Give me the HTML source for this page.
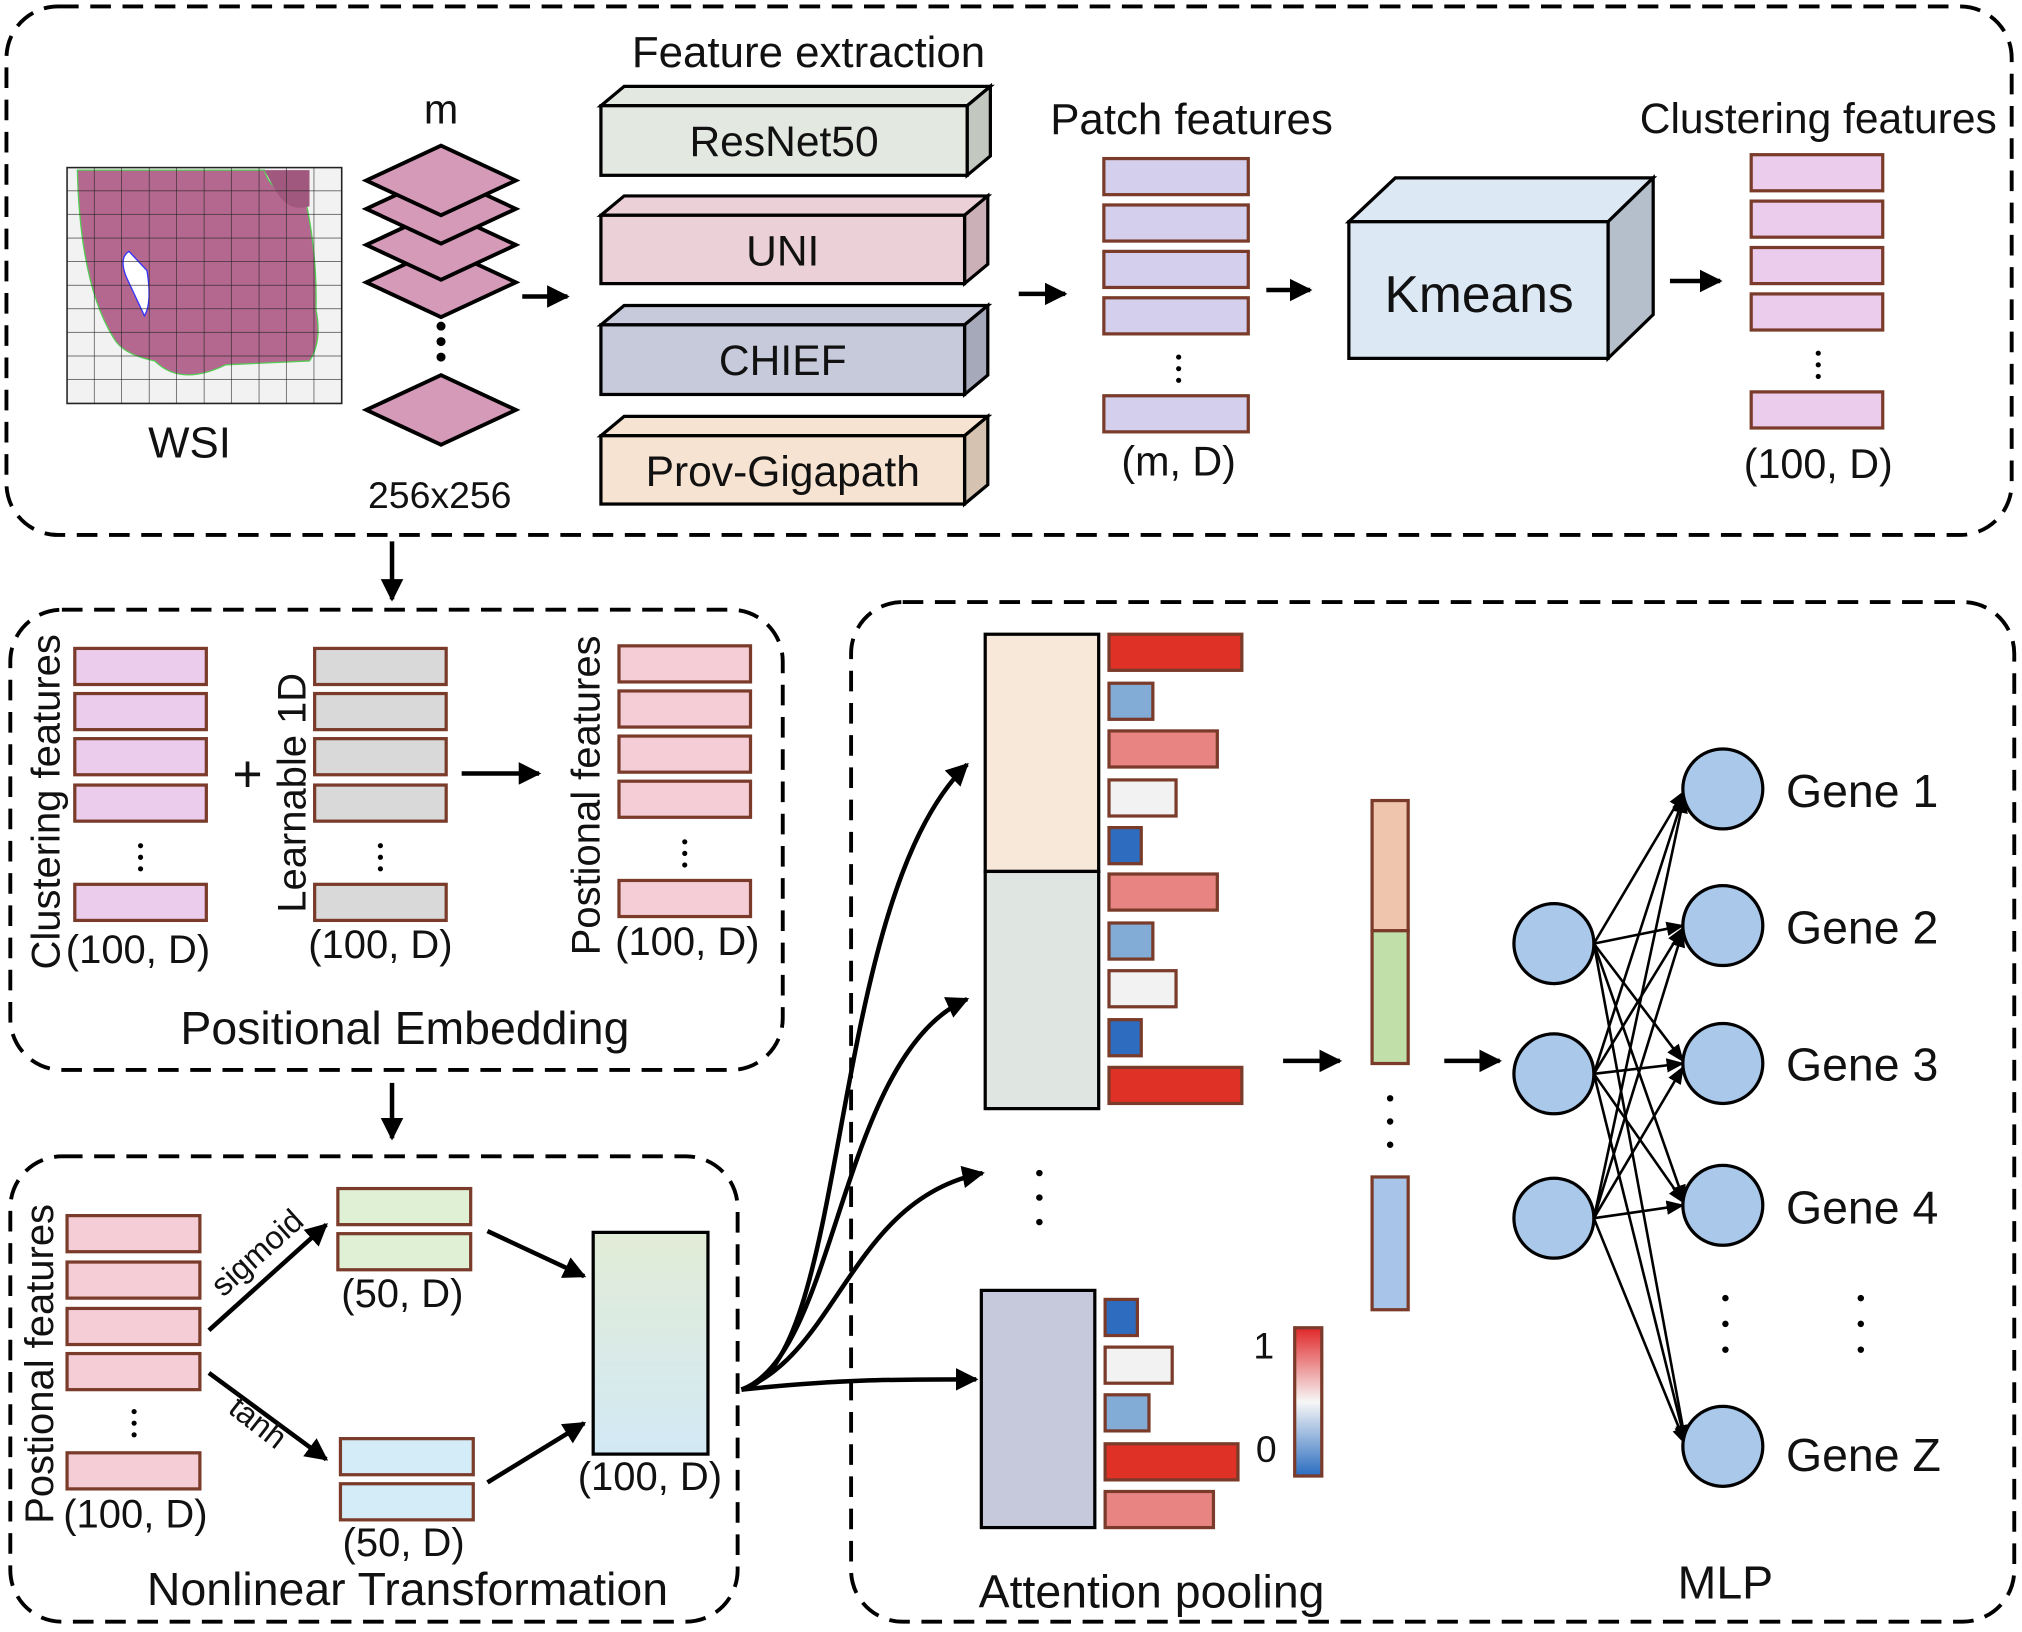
<!DOCTYPE html>
<html><head><meta charset="utf-8"><style>
html,body{margin:0;padding:0;background:#fff}
svg{display:block}
text{font-family:"Liberation Sans",Arial,sans-serif;fill:#111}
</style></head><body>
<svg width="2022" height="1632" viewBox="0 0 1568 1266" preserveAspectRatio="none" xmlns="http://www.w3.org/2000/svg">
<defs>
<marker id="ah" viewBox="0 0 10 10" refX="9" refY="5" markerWidth="5" markerHeight="5" orient="auto-start-reverse"><path d="M0,0 L10,5 L0,10 z" fill="#000"/></marker>
<marker id="as" viewBox="0 0 10 10" refX="9" refY="5" markerWidth="7" markerHeight="7" orient="auto"><path d="M0,1 L10,5 L0,9 z" fill="#000"/></marker>
<linearGradient id="gt" x1="0" y1="0" x2="0" y2="1"><stop offset="0" stop-color="#e2ecd6"/><stop offset="1" stop-color="#d2e9f5"/></linearGradient>
<linearGradient id="cb" x1="0" y1="0" x2="0" y2="1"><stop offset="0" stop-color="#e0282a"/><stop offset="0.5" stop-color="#f7f7f7"/><stop offset="1" stop-color="#2a6cc0"/></linearGradient>
<pattern id="grid" x="52" y="130" width="21.3" height="18.3" patternUnits="userSpaceOnUse"><path d="M21.3,0 V18.3 H0" fill="none" stroke="#222" stroke-width="0.9"/></pattern>
</defs>
<g fill="none" stroke="#000" stroke-width="3" stroke-dasharray="16 9">
<rect x="5" y="5" width="1555" height="410" rx="40"/>
<rect x="8" y="473" width="599" height="357" rx="40"/>
<rect x="8" y="897" width="564" height="361" rx="40"/>
<rect x="660" y="467" width="902" height="791" rx="40"/>
</g>
<!-- WSI -->
<rect x="52" y="130" width="213" height="183" fill="#f2f2f2"/>
<path d="M60,132 L205,132 Q210,150 230,150 L238,160 Q246,200 245,240 Q250,265 240,280 L175,283 Q140,300 120,280 Q95,275 88,262 Q62,220 60,132 Z" fill="#b4688f" stroke="#5c5" stroke-width="1"/>
<path d="M205,132 L240,132 L240,160 Q225,165 215,150 Z" fill="#a0587f"/>
<path d="M100,195 Q92,200 98,215 L112,245 Q118,235 114,210 Z" fill="#fff" stroke="#33f" stroke-width="1"/>
<rect x="52" y="130" width="213" height="183" fill="url(#grid)" stroke="#222" stroke-width="1.2"/>
<text x="147" y="355" font-size="34" text-anchor="middle">WSI</text>
<!-- patches -->
<text x="342" y="96" font-size="32" text-anchor="middle">m</text>
<g fill="#d49ab8" stroke="#000" stroke-width="3">
<path d="M284,219 L342,246 L400,219 L342,192 Z"/>
<path d="M284,190 L342,217 L400,190 L342,163 Z"/>
<path d="M284,162 L342,189 L400,162 L342,135 Z"/>
<path d="M284,140 L342,167 L400,140 L342,113 Z"/>
<path d="M284,318 L342,345 L400,318 L342,291 Z"/>
</g>
<g fill="#000"><circle cx="342" cy="253" r="3.5"/><circle cx="342" cy="265" r="3.5"/><circle cx="342" cy="277" r="3.5"/></g>
<text x="341" y="394" font-size="29" text-anchor="middle">256x256</text>
<g stroke="#000" stroke-width="3.5" marker-end="url(#ah)" fill="none">
<line x1="405" y1="230" x2="440" y2="230"/>
<line x1="790" y1="228" x2="826" y2="228"/>
<line x1="982" y1="225" x2="1016" y2="225"/>
<line x1="1295" y1="218" x2="1334" y2="218"/>
<line x1="304" y1="420" x2="304" y2="465"/>
<line x1="304" y1="840" x2="304" y2="883"/>
<line x1="358" y1="600" x2="418" y2="600"/>
<line x1="162" y1="1032" x2="253" y2="950"/>
<line x1="162" y1="1065" x2="253" y2="1132"/>
<line x1="378" y1="955" x2="453" y2="990"/>
<line x1="378" y1="1150" x2="453" y2="1104"/>
<line x1="995" y1="823" x2="1039" y2="823"/>
<line x1="1120" y1="823" x2="1163" y2="823"/>
</g>
<!-- feature extraction -->
<text x="627" y="52" font-size="34" text-anchor="middle">Feature extraction</text>
<g stroke="#000" stroke-width="2.5">
<path d="M466,82 L484,67 L768,67 L750,82 Z" fill="#e3e8e1"/><path d="M750,82 L768,67 L768,121 L750,136 Z" fill="#c2c7c0"/><rect x="466" y="82" width="284" height="54" fill="#e3e8e1"/>
<path d="M466,167 L484,152 L766,152 L748,167 Z" fill="#ecd0d7"/><path d="M748,167 L766,152 L766,205 L748,220 Z" fill="#cbb0b7"/><rect x="466" y="167" width="282" height="53" fill="#ecd0d7"/>
<path d="M466,252 L484,237 L766,237 L748,252 Z" fill="#c7cadb"/><path d="M748,252 L766,237 L766,291 L748,306 Z" fill="#a6a9ba"/><rect x="466" y="252" width="282" height="54" fill="#c7cadb"/>
<path d="M466,338 L484,323 L766,323 L748,338 Z" fill="#f7e3d1"/><path d="M748,338 L766,323 L766,376 L748,391 Z" fill="#d6c2b0"/><rect x="466" y="338" width="282" height="53" fill="#f7e3d1"/>
</g>
<g font-size="33" text-anchor="middle">
<text x="608" y="121">ResNet50</text><text x="607" y="206">UNI</text><text x="607" y="291">CHIEF</text><text x="607" y="377">Prov-Gigapath</text>
</g>
<!-- patch features -->
<text x="924" y="104" font-size="34" text-anchor="middle">Patch features</text>
<g fill="#d3cfec" stroke="#7a3b2a" stroke-width="2.5">
<rect x="856" y="123" width="112" height="28"/><rect x="856" y="159" width="112" height="28"/><rect x="856" y="195" width="112" height="28"/><rect x="856" y="231" width="112" height="28"/><rect x="856" y="307" width="112" height="28"/>
</g>
<text x="914" y="369" font-size="32" text-anchor="middle">(m, D)</text>
<!-- kmeans -->
<g stroke="#000" stroke-width="2.5">
<path d="M1046,172 L1082,138 L1282,138 L1247,172 Z" fill="#dde8f5"/><path d="M1247,172 L1282,138 L1282,244 L1247,278 Z" fill="#b5bfcc"/><rect x="1046" y="172" width="201" height="106" fill="#dde8f5"/>
</g>
<text x="1147" y="242" font-size="40" text-anchor="middle">Kmeans</text>
<text x="1410" y="103" font-size="33" text-anchor="middle">Clustering features</text>
<g fill="#ecccec" stroke="#7a3b2a" stroke-width="2.5">
<rect x="1358" y="120" width="102" height="28"/><rect x="1358" y="156" width="102" height="28"/><rect x="1358" y="192" width="102" height="28"/><rect x="1358" y="228" width="102" height="28"/><rect x="1358" y="304" width="102" height="28"/>
</g>
<text x="1410" y="371" font-size="32" text-anchor="middle">(100, D)</text>
<!-- positional embedding -->
<g stroke="#7a3b2a" stroke-width="2.5">
<g fill="#ecccec"><rect x="58" y="503" width="102" height="28"/><rect x="58" y="538" width="102" height="28"/><rect x="58" y="573" width="102" height="28"/><rect x="58" y="609" width="102" height="28"/><rect x="58" y="686" width="102" height="28"/></g>
<g fill="#d9d9d9"><rect x="244" y="503" width="102" height="28"/><rect x="244" y="538" width="102" height="28"/><rect x="244" y="573" width="102" height="28"/><rect x="244" y="609" width="102" height="28"/><rect x="244" y="686" width="102" height="28"/></g>
<g fill="#f5cdd6"><rect x="480" y="501" width="102" height="28"/><rect x="480" y="536" width="102" height="28"/><rect x="480" y="571" width="102" height="28"/><rect x="480" y="606" width="102" height="28"/><rect x="480" y="683" width="102" height="28"/></g>
<g fill="#f5cdd6"><rect x="52" y="943" width="103" height="28"/><rect x="52" y="979" width="103" height="28"/><rect x="52" y="1015" width="103" height="28"/><rect x="52" y="1050" width="103" height="28"/><rect x="52" y="1127" width="103" height="28"/></g>
<g fill="#dff0d5"><rect x="262" y="922" width="103" height="28"/><rect x="262" y="957" width="103" height="28"/></g>
<g fill="#d3ecf8"><rect x="264" y="1116" width="103" height="28"/><rect x="264" y="1151" width="103" height="28"/></g>
</g>
<g fill="#000"><circle cx="914" cy="277" r="2"/><circle cx="914" cy="286" r="2"/><circle cx="914" cy="295" r="2"/>
<circle cx="1410" cy="274" r="2"/><circle cx="1410" cy="283" r="2"/><circle cx="1410" cy="292" r="2"/>
<circle cx="109" cy="656" r="2"/><circle cx="109" cy="665" r="2"/><circle cx="109" cy="674" r="2"/>
<circle cx="295" cy="656" r="2"/><circle cx="295" cy="665" r="2"/><circle cx="295" cy="674" r="2"/>
<circle cx="531" cy="653" r="2"/><circle cx="531" cy="662" r="2"/><circle cx="531" cy="671" r="2"/>
<circle cx="104" cy="1095" r="2"/><circle cx="104" cy="1104" r="2"/><circle cx="104" cy="1113" r="2"/>
<circle cx="806" cy="910" r="2.5"/><circle cx="806" cy="929" r="2.5"/><circle cx="806" cy="948" r="2.5"/>
<circle cx="1078" cy="852" r="2.5"/><circle cx="1078" cy="870" r="2.5"/><circle cx="1078" cy="888" r="2.5"/>
<circle cx="1338" cy="1007" r="2.5"/><circle cx="1338" cy="1027" r="2.5"/><circle cx="1338" cy="1047" r="2.5"/>
<circle cx="1443" cy="1007" r="2.5"/><circle cx="1443" cy="1027" r="2.5"/><circle cx="1443" cy="1047" r="2.5"/>
</g>
<g font-size="31" text-anchor="middle">
<text x="107" y="747">(100, D)</text><text x="295" y="743">(100, D)</text><text x="533" y="741">(100, D)</text>
<text x="105" y="1185">(100, D)</text><text x="312" y="1014">(50, D)</text><text x="313" y="1207">(50, D)</text><text x="504" y="1156">(100, D)</text>
</g>
<text x="192" y="614" font-size="40" text-anchor="middle">+</text>
<g font-size="31" text-anchor="middle">
<text transform="translate(46,622) rotate(-90)">Clustering features</text>
<text transform="translate(237,615) rotate(-90)">Learnable 1D</text>
<text transform="translate(465,617) rotate(-90)">Postional features</text>
<text transform="translate(41,1058) rotate(-90)">Postional features</text>
</g>
<text x="314" y="810" font-size="36" text-anchor="middle">Positional Embedding</text>
<text transform="translate(205,978) rotate(-42)" font-size="25" text-anchor="middle">sigmoid</text>
<text transform="translate(195,1110) rotate(38)" font-size="25" text-anchor="middle">tanh</text>
<rect x="460" y="956" width="89" height="172" fill="url(#gt)" stroke="#000" stroke-width="2.5"/>
<text x="316" y="1245" font-size="36" text-anchor="middle">Nonlinear Transformation</text>
<!-- curves -->
<g stroke="#000" stroke-width="3.5" fill="none" marker-end="url(#ah)">
<path d="M575,1078 C660,1060 640,700 750,593"/>
<path d="M575,1078 C650,1050 650,820 750,775"/>
<path d="M575,1078 C650,1050 660,930 762,910"/>
<path d="M575,1078 C650,1070 690,1070 757,1070"/>
</g>
<!-- attention -->
<g stroke="#000" stroke-width="2.5">
<rect x="764" y="492" width="88" height="184" fill="#f8e8da"/>
<rect x="764" y="676" width="88" height="184" fill="#dfe5e1"/>
<rect x="761" y="1001" width="88" height="184" fill="#c6c9db"/>
</g>
<g stroke="#7a3b2a" stroke-width="2.5">
<rect x="860" y="492" width="103" height="28" fill="#e03127"/>
<rect x="860" y="530" width="34" height="28" fill="#82acd6"/>
<rect x="860" y="567" width="84" height="28" fill="#e88582"/>
<rect x="860" y="605" width="52" height="28" fill="#f2f2f2"/>
<rect x="860" y="642" width="25" height="28" fill="#2e6cc0"/>
<rect x="860" y="678" width="84" height="28" fill="#e88582"/>
<rect x="860" y="716" width="34" height="28" fill="#82acd6"/>
<rect x="860" y="753" width="52" height="28" fill="#f2f2f2"/>
<rect x="860" y="791" width="25" height="28" fill="#2e6cc0"/>
<rect x="860" y="828" width="103" height="28" fill="#e03127"/>
<rect x="857" y="1008" width="25" height="28" fill="#2e6cc0"/>
<rect x="857" y="1045" width="52" height="28" fill="#f2f2f2"/>
<rect x="857" y="1082" width="34" height="28" fill="#82acd6"/>
<rect x="857" y="1120" width="103" height="28" fill="#e03127"/>
<rect x="857" y="1157" width="84" height="28" fill="#e88582"/>
<rect x="1004" y="1030" width="21" height="115" fill="url(#cb)"/>
<rect x="1064" y="621" width="28" height="101" fill="#f0c5ae"/>
<rect x="1064" y="722" width="28" height="103" fill="#c1e0a9"/>
<rect x="1064" y="913" width="28" height="103" fill="#a8c4e8"/>
</g>
<text x="980" y="1054" font-size="29" text-anchor="middle">1</text>
<text x="982" y="1134" font-size="29" text-anchor="middle">0</text>
<text x="893" y="1247" font-size="36" text-anchor="middle">Attention pooling</text>
<!-- MLP -->
<g stroke="#000" stroke-width="2" marker-end="url(#as)">
<line x1="1236" y1="732" x2="1306" y2="614"/><line x1="1236" y1="732" x2="1305" y2="718"/><line x1="1236" y1="732" x2="1305" y2="823"/><line x1="1236" y1="732" x2="1306" y2="932"/><line x1="1236" y1="732" x2="1307" y2="1118"/>
<line x1="1236" y1="833" x2="1306" y2="616"/><line x1="1236" y1="833" x2="1305" y2="720"/><line x1="1236" y1="833" x2="1305" y2="825"/><line x1="1236" y1="833" x2="1306" y2="933"/><line x1="1236" y1="833" x2="1307" y2="1119"/>
<line x1="1236" y1="945" x2="1306" y2="618"/><line x1="1236" y1="945" x2="1305" y2="722"/><line x1="1236" y1="945" x2="1305" y2="828"/><line x1="1236" y1="945" x2="1305" y2="935"/><line x1="1236" y1="945" x2="1307" y2="1120"/>
</g>
<g fill="#a9c8ea" stroke="#000" stroke-width="2.5">
<circle cx="1205" cy="732" r="31"/><circle cx="1205" cy="833" r="31"/><circle cx="1205" cy="945" r="31"/>
<circle cx="1336" cy="612" r="31"/><circle cx="1336" cy="718" r="31"/><circle cx="1336" cy="825" r="31"/><circle cx="1336" cy="935" r="31"/><circle cx="1336" cy="1122" r="31"/>
</g>
<g font-size="36">
<text x="1385" y="626">Gene 1</text><text x="1385" y="732">Gene 2</text><text x="1385" y="838">Gene 3</text><text x="1385" y="949">Gene 4</text><text x="1385" y="1141">Gene Z</text>
</g>
<text x="1338" y="1240" font-size="36" text-anchor="middle">MLP</text>
</svg>
</body></html>
